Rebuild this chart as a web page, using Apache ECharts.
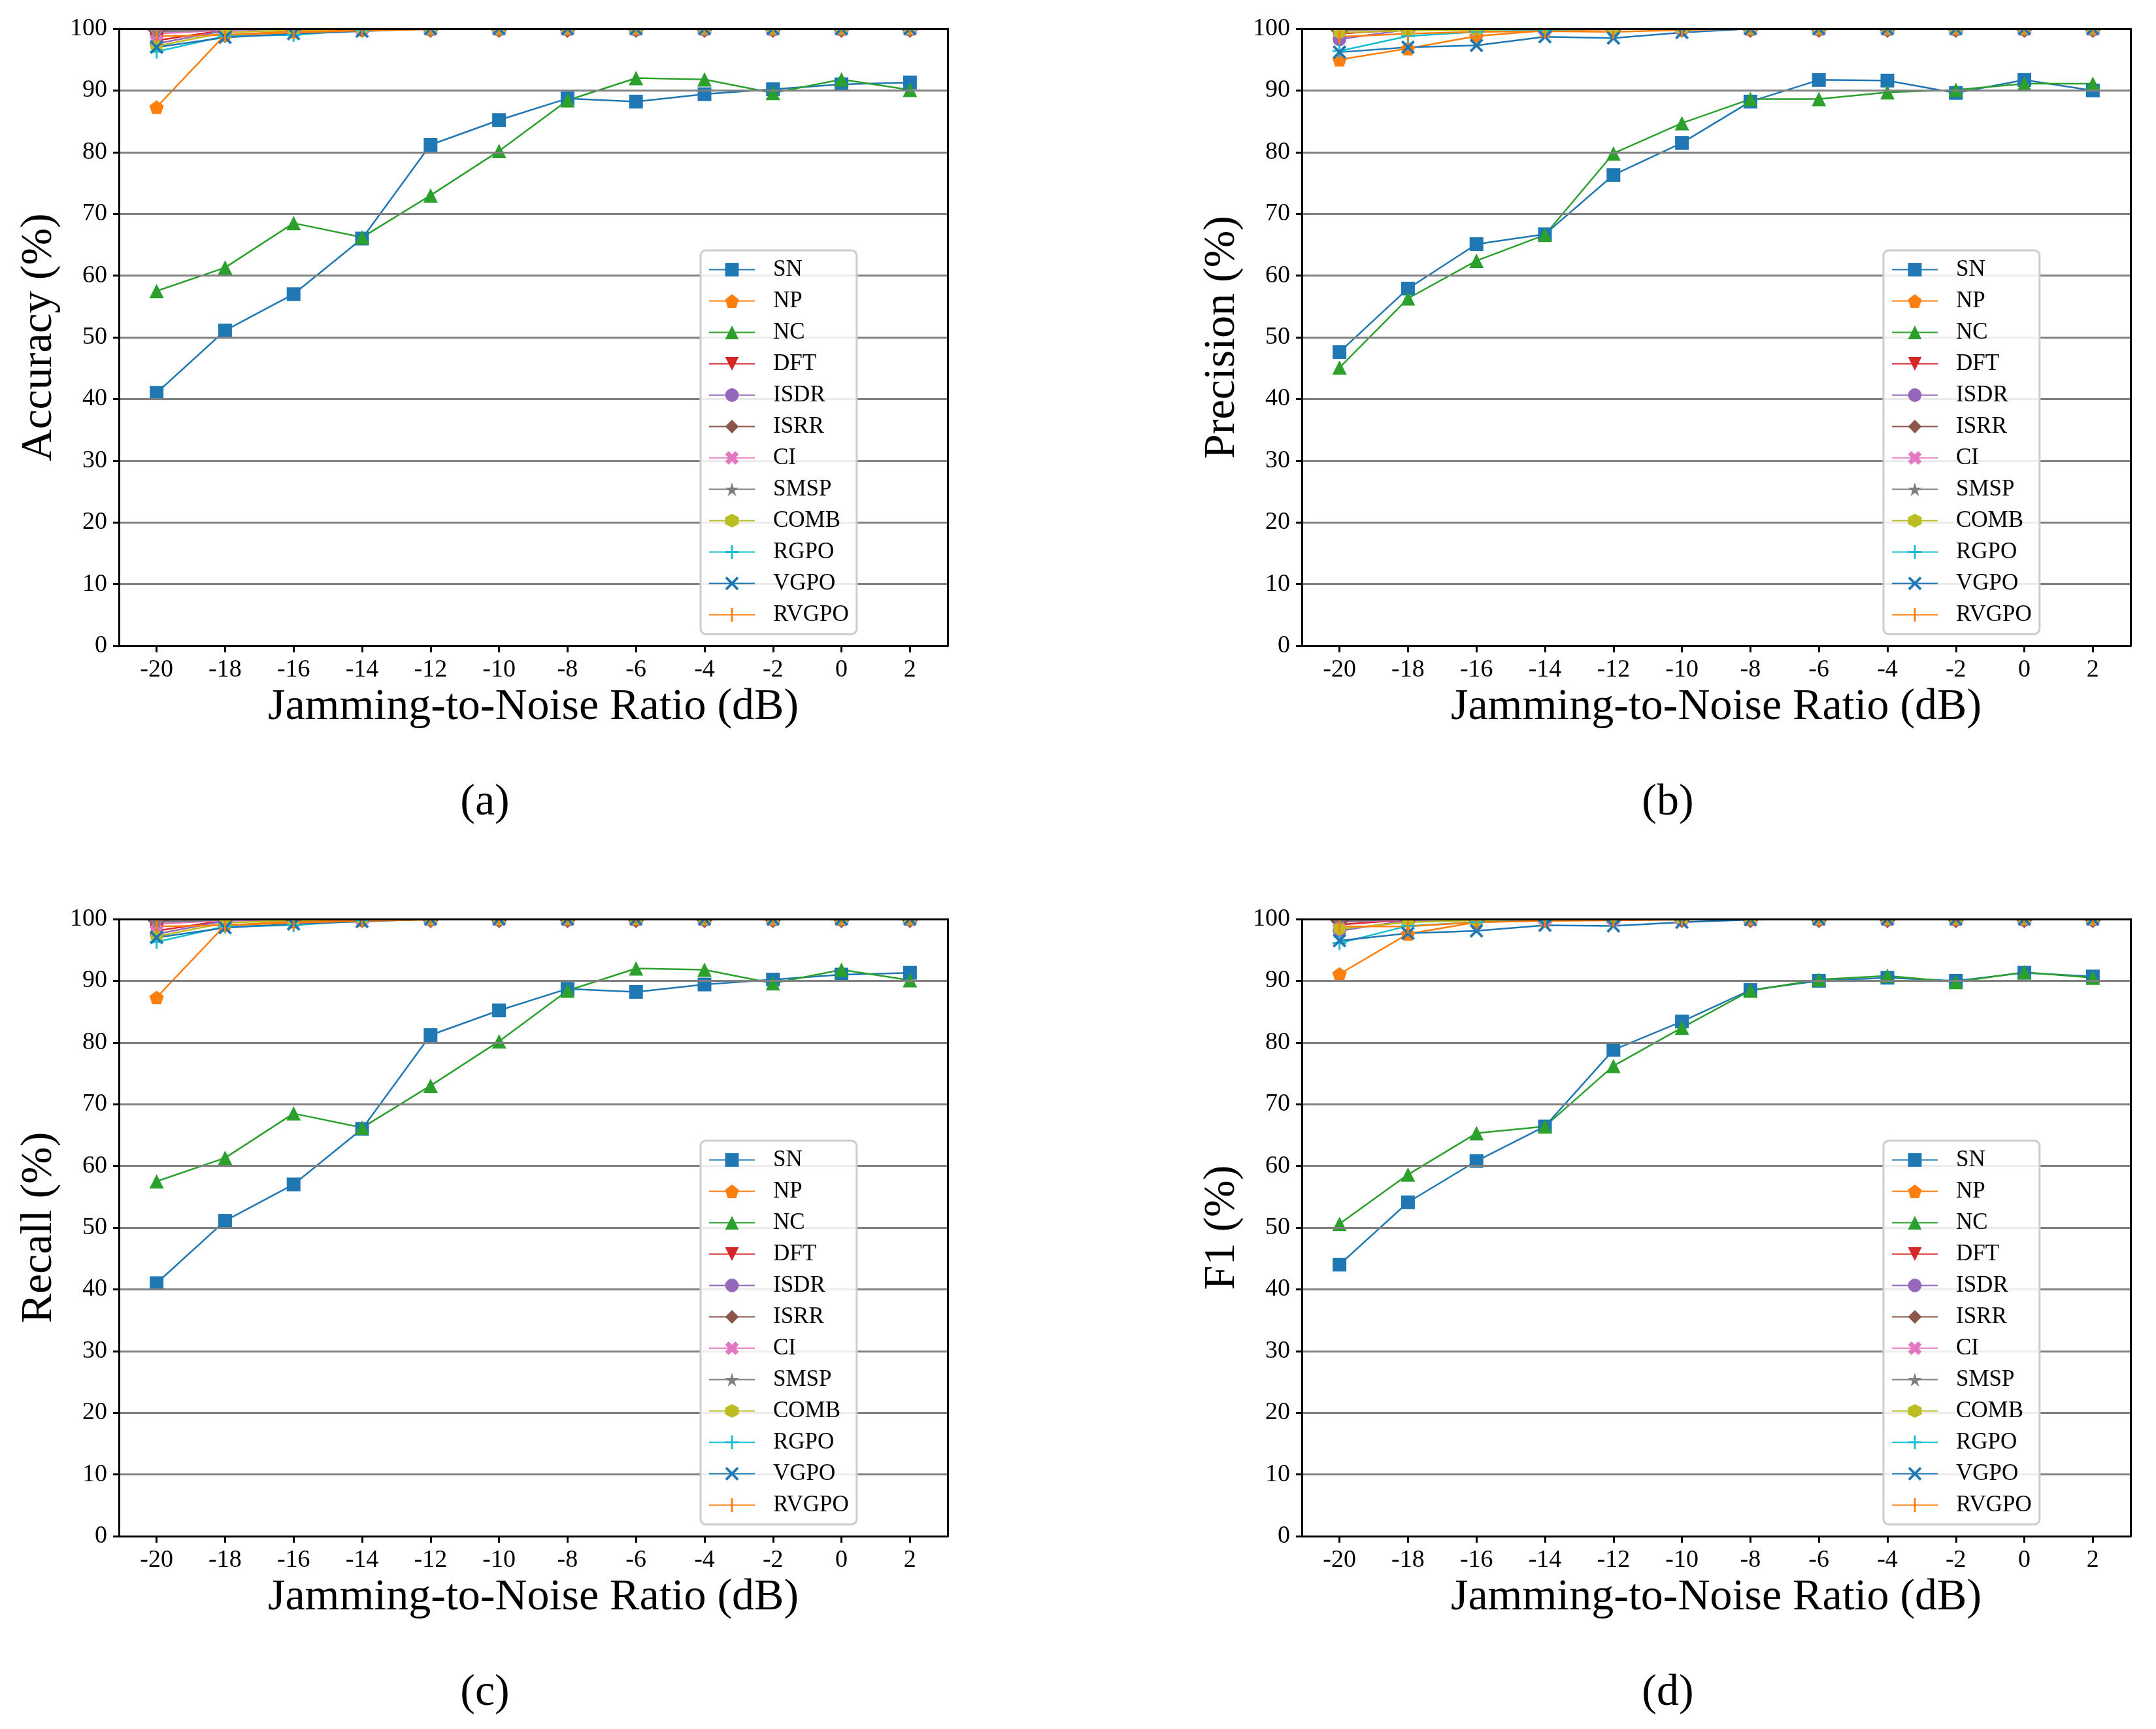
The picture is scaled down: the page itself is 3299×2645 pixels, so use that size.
<!DOCTYPE html>
<html>
<head>
<meta charset="utf-8">
<script src="https://cdn.jsdelivr.net/npm/echarts@6/dist/echarts.min.js"></script>
<style>
html, body { margin: 0; padding: 0; background: #fff; }
#chart { width: 3299px; height: 2645px; }
</style>
</head>
<body>
<div id="chart"></div>
<script>
// x categories (JNR in dB)
const jnr = [-20, -18, -16, -14, -12, -10, -8, -6, -4, -2, 0, 2]
const methods = ['SN', 'NP', 'NC', 'DFT', 'ISDR', 'ISRR', 'CI', 'SMSP', 'COMB', 'RGPO', 'VGPO', 'RVGPO']

// one row per method, same order as `methods`
const accuracy = [
    [41.0, 51.1, 57.0, 66.0, 81.2, 85.2, 88.7, 88.2, 89.4, 90.2, 91.0, 91.3],
    [87.3, 99.0, 99.6, 99.9, 100, 100, 100, 100, 100, 100, 100, 100],
    [57.5, 61.3, 68.5, 66.2, 73.0, 80.2, 88.4, 92.0, 91.8, 89.6, 91.8, 90.1],
    [98.1, 99.8, 100, 100, 100, 100, 100, 100, 100, 100, 100, 100],
    [97.6, 99.7, 100, 100, 100, 100, 100, 100, 100, 100, 100, 100],
    [99.8, 100, 100, 100, 100, 100, 100, 100, 100, 100, 100, 100],
    [99.2, 99.8, 100, 100, 100, 100, 100, 100, 100, 100, 100, 100],
    [99.5, 99.9, 100, 100, 100, 100, 100, 100, 100, 100, 100, 100],
    [97.2, 99.4, 99.8, 100, 100, 100, 100, 100, 100, 100, 100, 100],
    [96.3, 98.8, 99.0, 99.8, 100, 100, 100, 100, 100, 100, 100, 100],
    [97.0, 98.6, 99.2, 99.6, 100, 100, 100, 100, 100, 100, 100, 100],
    [98.8, 99.0, 99.4, 99.7, 99.9, 100, 100, 100, 100, 100, 100, 100]
]

const precision = [
    [47.6, 57.9, 65.1, 66.7, 76.3, 81.5, 88.2, 91.7, 91.6, 89.6, 91.7, 90.0],
    [95.0, 96.8, 98.8, 99.7, 99.9, 100, 100, 100, 100, 100, 100, 100],
    [45.1, 56.3, 62.4, 66.6, 79.8, 84.7, 88.6, 88.6, 89.7, 90.1, 91.1, 91.1],
    [99.2, 99.9, 100, 100, 100, 100, 100, 100, 100, 100, 100, 100],
    [98.3, 99.9, 100, 100, 100, 100, 100, 100, 100, 100, 100, 100],
    [99.8, 100, 100, 100, 100, 100, 100, 100, 100, 100, 100, 100],
    [99.7, 100, 100, 100, 100, 100, 100, 100, 100, 100, 100, 100],
    [99.8, 100, 100, 100, 100, 100, 100, 100, 100, 100, 100, 100],
    [99.4, 99.7, 99.8, 100, 100, 100, 100, 100, 100, 100, 100, 100],
    [96.4, 98.8, 99.5, 99.8, 100, 100, 100, 100, 100, 100, 100, 100],
    [96.2, 97.0, 97.3, 98.7, 98.5, 99.4, 100, 100, 100, 100, 100, 100],
    [98.7, 99.2, 99.5, 99.6, 99.5, 99.8, 100, 100, 100, 100, 100, 100]
]

const recall = [
    [41.0, 51.1, 57.0, 66.0, 81.2, 85.2, 88.7, 88.2, 89.4, 90.2, 91.0, 91.3],
    [87.3, 99.0, 99.6, 99.9, 100, 100, 100, 100, 100, 100, 100, 100],
    [57.5, 61.3, 68.5, 66.2, 73.0, 80.2, 88.4, 92.0, 91.8, 89.6, 91.8, 90.1],
    [98.1, 99.8, 100, 100, 100, 100, 100, 100, 100, 100, 100, 100],
    [97.6, 99.7, 100, 100, 100, 100, 100, 100, 100, 100, 100, 100],
    [99.8, 100, 100, 100, 100, 100, 100, 100, 100, 100, 100, 100],
    [99.2, 99.8, 100, 100, 100, 100, 100, 100, 100, 100, 100, 100],
    [99.5, 99.9, 100, 100, 100, 100, 100, 100, 100, 100, 100, 100],
    [97.2, 99.4, 99.8, 100, 100, 100, 100, 100, 100, 100, 100, 100],
    [96.3, 98.8, 99.0, 99.8, 100, 100, 100, 100, 100, 100, 100, 100],
    [97.0, 98.6, 99.2, 99.6, 100, 100, 100, 100, 100, 100, 100, 100],
    [98.8, 99.0, 99.4, 99.7, 99.9, 100, 100, 100, 100, 100, 100, 100]
]

const f1 = [
    [44.0, 54.1, 60.8, 66.4, 78.8, 83.4, 88.5, 90.0, 90.5, 90.0, 91.3, 90.7],
    [91.1, 97.6, 99.5, 99.8, 100, 100, 100, 100, 100, 100, 100, 100],
    [50.6, 58.6, 65.3, 66.4, 76.2, 82.4, 88.4, 90.2, 90.8, 89.8, 91.4, 90.5],
    [99.1, 99.9, 100, 100, 100, 100, 100, 100, 100, 100, 100, 100],
    [98.1, 99.8, 100, 100, 100, 100, 100, 100, 100, 100, 100, 100],
    [99.7, 100, 100, 100, 100, 100, 100, 100, 100, 100, 100, 100],
    [99.5, 99.9, 100, 100, 100, 100, 100, 100, 100, 100, 100, 100],
    [99.6, 100, 100, 100, 100, 100, 100, 100, 100, 100, 100, 100],
    [98.4, 99.5, 99.8, 100, 100, 100, 100, 100, 100, 100, 100, 100],
    [96.1, 98.9, 99.5, 99.8, 100, 100, 100, 100, 100, 100, 100, 100],
    [96.5, 97.7, 98.1, 99.0, 98.9, 99.5, 99.9, 100, 100, 100, 100, 100],
    [98.8, 98.8, 99.5, 99.7, 99.8, 99.9, 100, 100, 100, 100, 100, 100]
]

const yNames = ['Accuracy (%)', 'Precision (%)', 'Recall (%)', 'F1 (%)']
const captions = ['(a)', '(b)', '(c)', '(d)']
const xName = 'Jamming-to-Noise Ratio (dB)'

const colors = ['#1f77b4', '#ff7f0e', '#2ca02c', '#d62728', '#9467bd', '#8c564b',
    '#e377c2', '#7f7f7f', '#bcbd22', '#17becf', '#1f77b4', '#ff7f0e']

// matplotlib-like markers: s p ^ v o D X * h + x |
const symbols = [
    'rect',
    'path://M50,0 L97.6,34.5 L79.4,90.5 L20.6,90.5 L2.4,34.5 Z',
    'triangle',
    'path://M0,0 L100,0 L50,100 Z',
    'circle',
    'diamond',
    'path://M0,25 L25,0 L50,25 L75,0 L100,25 L75,50 L100,75 L75,100 L50,75 L25,100 L0,75 L25,50 Z',
    'path://M50,0 L61.2,34.5 L97.6,34.5 L68.2,55.9 L79.4,90.5 L50,69.1 L20.6,90.5 L31.8,55.9 L2.4,34.5 L38.8,34.5 Z',
    'path://M50,0 L93.3,25 L93.3,75 L50,100 L6.7,75 L6.7,25 Z',
    'path://M43,0 L57,0 L57,43 L100,43 L100,57 L57,57 L57,100 L43,100 L43,57 L0,57 L0,43 L43,43 Z',
    'path://M0,13 L13,0 L50,37 L87,0 L100,13 L63,50 L100,87 L87,100 L50,63 L13,100 L0,87 L37,50 Z',
    'path://M43,0 L57,0 L57,100 L43,100 Z M0,50 L0.01,50 L0,50.01 Z M100,50 L99.99,50 L100,50.01 Z'
]
const symbolSizes = [21, 22, 22, 22, 21, 28, 22, 20, 21, 21, 21, 21]

const metrics = [accuracy, precision, recall, f1]

const FONT = 'Liberation Serif'
const panelPos = [[182, 44], [1992, 44], [182, 1406], [1992, 1406]]
const captionPos = [[742, 1228], [2552, 1228], [742, 2590], [2552, 2590]]
const PW = 1268
const PH = 944

function buildOption() {
    const grid = []
    const xAxis = []
    const yAxis = []
    const series = []
    const legend = []
    const graphic = []

    metrics.forEach((rows, p) => {
        const [left, top] = panelPos[p]
        grid.push({ left: left, top: top, width: PW, height: PH, containLabel: false })

        xAxis.push({
            gridIndex: p,
            type: 'value',
            min: -21.1,
            max: 3.1,
            z: 10,
            name: xName,
            nameLocation: 'middle',
            nameGap: 60,
            nameTextStyle: { fontFamily: FONT, fontSize: 68, color: '#000' },
            axisLine: { show: true, onZero: false, lineStyle: { color: '#000', width: 3 } },
            axisTick: { show: true, length: 10, lineStyle: { color: '#000', width: 3 }, customValues: jnr },
            axisLabel: { fontFamily: FONT, fontSize: 38, color: '#000', margin: 18, customValues: jnr },
            splitLine: { show: false }
        })
        xAxis.push({
            gridIndex: p,
            type: 'value',
            position: 'top',
            min: -21.1,
            max: 3.1,
            z: 10,
            axisLine: { show: true, onZero: false, lineStyle: { color: '#000', width: 3 } },
            axisTick: { show: false },
            axisLabel: { show: false },
            splitLine: { show: false }
        })

        yAxis.push({
            gridIndex: p,
            type: 'value',
            min: 0,
            max: 100,
            interval: 10,
            z: 10,
            name: yNames[p],
            nameLocation: 'middle',
            nameGap: 88,
            nameTextStyle: { fontFamily: FONT, fontSize: 68, color: '#000' },
            axisLine: { show: true, onZero: false, lineStyle: { color: '#000', width: 3 } },
            axisTick: { show: true, length: 9, lineStyle: { color: '#000', width: 3 } },
            axisLabel: { fontFamily: FONT, fontSize: 38, color: '#000', margin: 18 },
            splitLine: { show: true, showMinLine: false, showMaxLine: false, lineStyle: { color: '#808080', width: 3 } }
        })
        yAxis.push({
            gridIndex: p,
            type: 'value',
            position: 'right',
            min: 0,
            max: 100,
            z: 10,
            axisLine: { show: true, onZero: false, lineStyle: { color: '#000', width: 3 } },
            axisTick: { show: false },
            axisLabel: { show: false },
            splitLine: { show: false }
        })

        rows.forEach((vals, m) => {
            series.push({
                type: 'line',
                name: methods[m],
                xAxisIndex: 2 * p,
                yAxisIndex: 2 * p,
                data: jnr.map((x, i) => [x, vals[i]]),
                symbol: symbols[m],
                symbolSize: symbolSizes[m],
                symbolKeepAspect: true,
                showAllSymbol: true,
                clip: false,
                lineStyle: { color: colors[m], width: 2.5 },
                itemStyle: { color: colors[m] },
                emphasis: { disabled: true }
            })
        })

        legend.push({
            data: methods,
            orient: 'vertical',
            left: left + 890,
            top: top + 339,
            z: 12,
            itemWidth: 70,
            itemHeight: 26,
            itemGap: 13,
            padding: [12, 12, 12, 12],
            backgroundColor: 'rgba(255,255,255,0.85)',
            borderColor: '#cccccc',
            borderWidth: 3,
            borderRadius: 8,
            selectedMode: false,
            textStyle: { fontFamily: FONT, fontSize: 35, color: '#000', padding: [0, 0, 0, 23] }
        })

        // white band above the plot so markers sitting on 100 look clipped at the frame
        graphic.push({
            type: 'rect',
            z: 5,
            silent: true,
            shape: { x: left + 2, y: top - 16, width: PW - 4, height: 16 },
            style: { fill: '#fff' }
        })

        graphic.push({
            type: 'text',
            x: captionPos[p][0],
            y: captionPos[p][1],
            style: {
                text: captions[p],
                fontFamily: FONT,
                fontSize: 68,
                fill: '#000',
                textAlign: 'center',
                textVerticalAlign: 'middle'
            }
        })
    })

    return {
        animation: false,
        backgroundColor: '#fff',
        color: colors,
        grid: grid,
        xAxis: xAxis,
        yAxis: yAxis,
        legend: legend,
        graphic: graphic,
        series: series
    }
}

function main() {
    const chart = echarts.init(document.getElementById('chart'))
    chart.setOption(buildOption())
}

document.addEventListener('DOMContentLoaded', function() {
    main()
})
</script>
</body>
</html>
